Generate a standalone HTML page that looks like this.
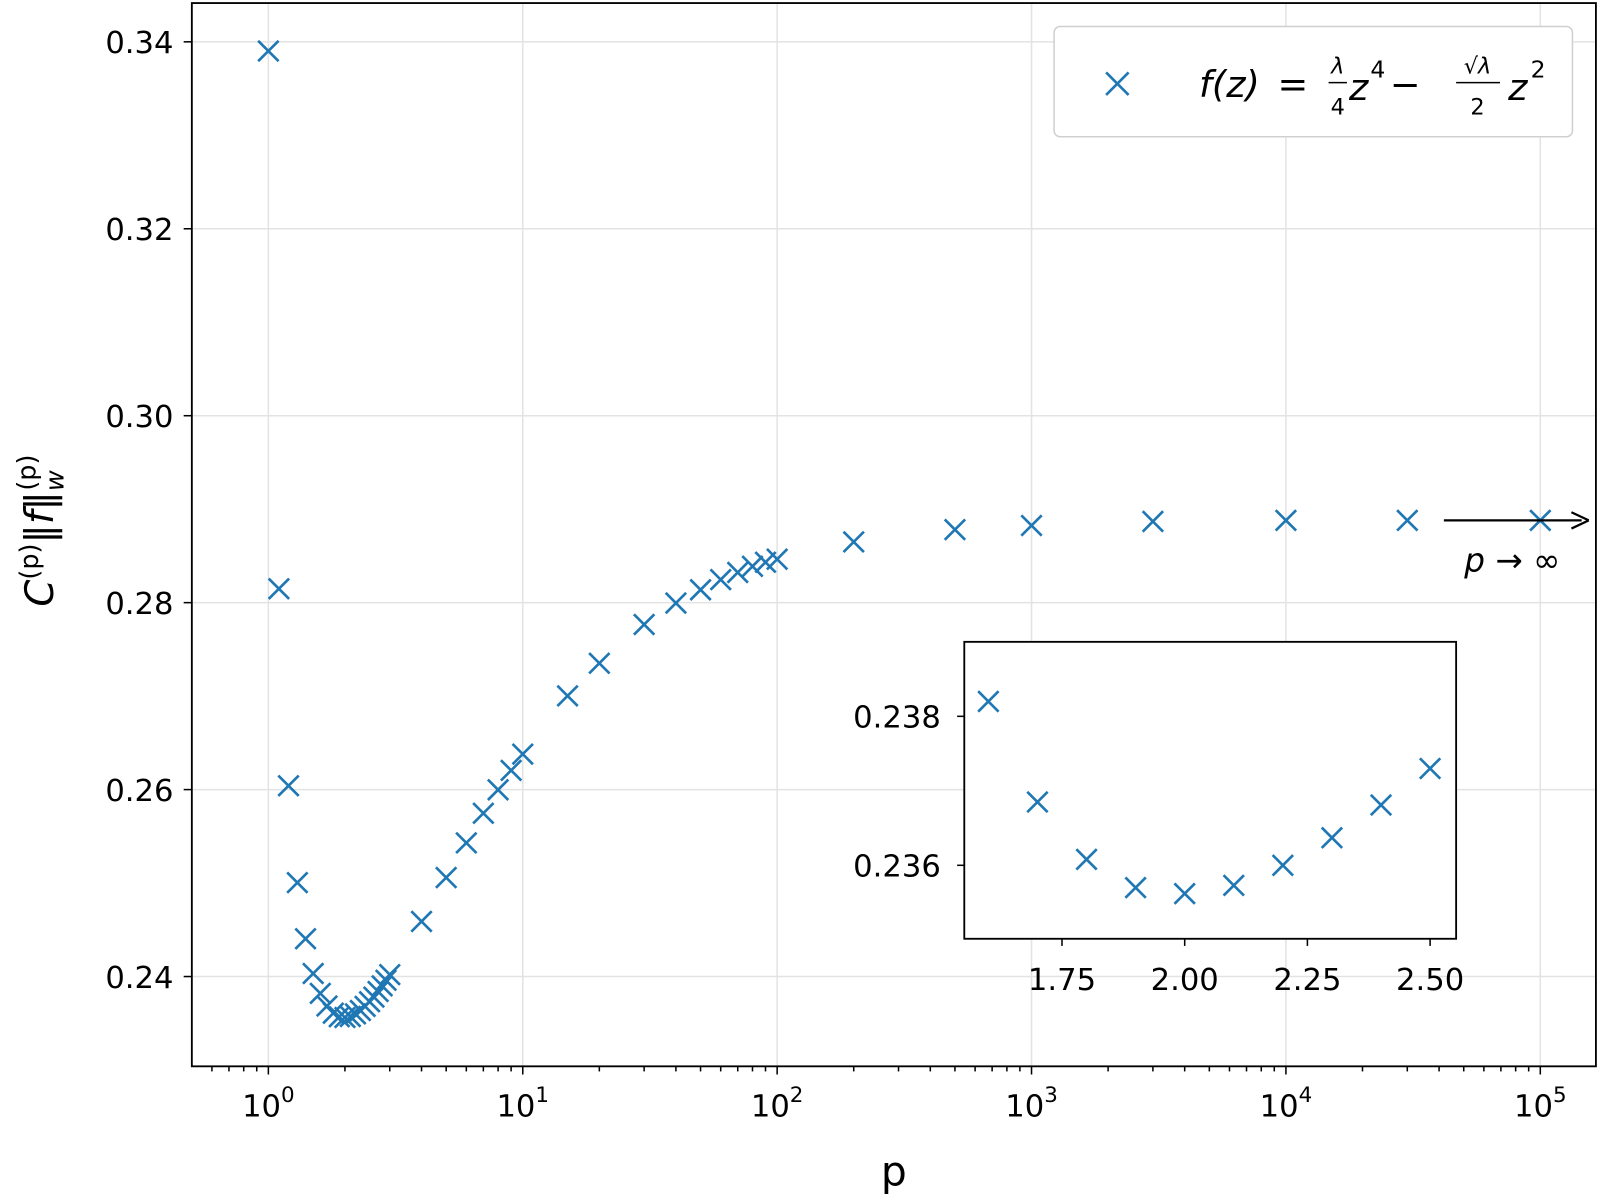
<!DOCTYPE html>
<html><head><meta charset="utf-8"><style>
html,body{margin:0;padding:0;background:#fff}
svg{display:block}
text{font-family:"DejaVu Sans","Liberation Sans",sans-serif;fill:#000}
</style></head><body>
<svg id="s" width="1600" height="1200" viewBox="0 0 1568 1176" xmlns="http://www.w3.org/2000/svg">
<rect width="1568" height="1176" fill="#fff"/>
<g id="grid" stroke="#e3e3e3" stroke-width="1.5"></g>
<g id="ticks" stroke="#000" stroke-width="1.5"></g>
<g id="pts" stroke="#1f77b4" stroke-width="2.6" fill="none"></g>
<rect x="188" y="3" width="1376" height="1042" fill="none" stroke="#000" stroke-width="1.8"/>
<g id="lbl" font-size="30"></g>
<text x="876" y="1162" font-size="40" text-anchor="middle">p</text>
<text transform="translate(52,520) rotate(-90)" font-size="38" text-anchor="middle"><tspan font-style="italic">C</tspan><tspan font-size="25" dy="-15">(p)</tspan><tspan dy="15">‖</tspan><tspan font-style="italic">f</tspan><tspan>‖</tspan><tspan font-size="25" font-style="italic" dy="10">w</tspan><tspan font-size="25" dx="-20" dy="-27">(p)</tspan></text>
<!-- legend -->
<rect x="1033" y="26" width="508" height="108" rx="6" fill="#fff" stroke="#d0d0d0" stroke-width="1.5"/>
<path d="M1084 71 L1106 93 M1106 71 L1084 93" stroke="#1f77b4" stroke-width="2.6"/>
<text x="1175" y="95" font-size="36" font-style="italic">f(z)</text>
<text x="1252" y="95" font-size="36">=</text>
<text x="1311" y="72" font-size="22" font-style="italic" text-anchor="middle">λ</text>
<line x1="1302" y1="81" x2="1320" y2="81" stroke="#000" stroke-width="1.5"/>
<text x="1311" y="112" font-size="22" text-anchor="middle">4</text>
<text x="1322" y="98" font-size="36" font-style="italic">z</text>
<text x="1343" y="76" font-size="23">4</text>
<text x="1362" y="95" font-size="36">−</text>
<text x="1448" y="72" font-size="22" font-style="italic" text-anchor="middle">√λ</text>
<line x1="1427" y1="81" x2="1470" y2="81" stroke="#000" stroke-width="1.5"/>
<text x="1448" y="112" font-size="22" text-anchor="middle">2</text>
<text x="1478" y="98" font-size="36" font-style="italic">z</text>
<text x="1500" y="76" font-size="23">2</text>
<!-- arrow -->
<line x1="1415" y1="510" x2="1550" y2="510" stroke="#000" stroke-width="2.2"/>
<path d="M1557 510 L1540 502 M1557 510 L1540 518" stroke="#000" stroke-width="2.2"/>
<text x="1435" y="560" font-size="32"><tspan font-style="italic">p</tspan> → ∞</text>
<!-- inset -->
<rect x="945" y="629" width="482" height="291" fill="#fff" stroke="#000" stroke-width="1.8"/>
<g id="ins" stroke="#1f77b4" stroke-width="2.6"></g>
<g id="insl" font-size="30"></g>
</svg>
<script>
var NS="http://www.w3.org/2000/svg";
function el(g,t,a,txt){var e=document.createElementNS(NS,t);for(var k in a)e.setAttribute(k,a[k]);if(txt!==undefined)e.textContent=txt;(typeof g=="string"?document.getElementById(g):g).appendChild(e);return e;}
function X(p){return 263+249.3*Math.log10(p);}
function Y(v){return 957-(v-0.24)*9160;}
function mk(g,x,y){el(g,"path",{d:"M"+(x-10)+" "+(y-10)+"L"+(x+10)+" "+(y+10)+"M"+(x+10)+" "+(y-10)+"L"+(x-10)+" "+(y+10)});}
[0.24,0.26,0.28,0.30,0.32,0.34].forEach(function(v){var y=Y(v);
 el("grid","line",{x1:188,x2:1564,y1:y,y2:y});
 el("ticks","line",{x1:180,x2:188,y1:y,y2:y});
 el("lbl","text",{x:170,y:y+11,"text-anchor":"end"},v.toFixed(2));});
for(var d=0;d<=5;d++){var x=X(Math.pow(10,d));
 el("grid","line",{x1:x,x2:x,y1:3,y2:1045});
 el("ticks","line",{x1:x,x2:x,y1:1045,y2:1053});
 var t=el("lbl","text",{x:x,y:1094,"text-anchor":"middle"},"10");
 el(t,"tspan",{"font-size":"21",dy:"-14"},""+d);
}
for(var d=-1;d<=5;d++)for(var m=2;m<=9;m++){var x=X(m*Math.pow(10,d));if(x>188&&x<1564)el("ticks","line",{x1:x,x2:x,y1:1045,y2:1050});}
var P=[[1,50],[1.1,577],[1.2,770],[1.3,865],[1.4,920],[1.5,954]];
var iv=[[1.6,0.2382],[1.7,0.23685],[1.8,0.23608],[1.9,0.2357],[2.0,0.23562],[2.1,0.23573],[2.2,0.236],[2.3,0.23637],[2.4,0.23681],[2.5,0.2373],[2.6,0.2378],[2.7,0.2384],[2.8,0.2390],[2.9,0.2396],[3.0,0.2402]];
iv.forEach(function(a){P.push([a[0],Y(a[1])]);});
[[4,903],[5,860],[6,826],[7,797],[8,774],[9,755],[10,739],[15,682],[20,650],[30,612],[40,591],[50,578],[60,568],[70,561],[80,555],[90,551],[100,548],[200,531],[500,519],[1000,515],[3000,511],[10000,510],[30000,510],[100000,510]].forEach(function(a){P.push(a);});
P.forEach(function(a){mk("pts",X(a[0]),a[1]);});
function IX(p){return 1161+(p-2)*481;}
function IY(v){return 848-(v-0.236)*73000;}
iv.slice(0,10).forEach(function(a){mk("ins",IX(a[0]),IY(a[1]));});
[0.236,0.238].forEach(function(v){var y=IY(v);el("ins","line",{x1:938,x2:945,y1:y,y2:y,stroke:"#000","stroke-width":1.5});el("insl","text",{x:922,y:y+11,"text-anchor":"end"},v.toFixed(3));});
[1.75,2.0,2.25,2.5].forEach(function(p){var x=IX(p);el("ins","line",{x1:x,x2:x,y1:920,y2:927,stroke:"#000","stroke-width":1.5});el("insl","text",{x:x,y:970,"text-anchor":"middle"},p.toFixed(2));});
</script>
</body></html>
